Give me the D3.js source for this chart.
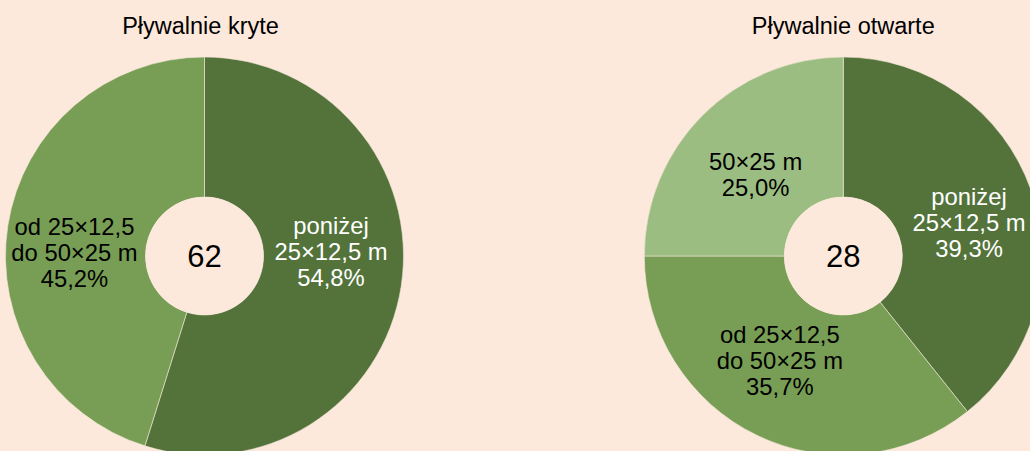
<!DOCTYPE html>
<html>
<head>
<meta charset="utf-8">
<script src="https://cdn.jsdelivr.net/npm/d3@7"></script>
<style>
  html, body { margin: 0; padding: 0; background: #fde9dc; }
  svg { display: block; font-family: "Liberation Sans", Arial, sans-serif; }
</style>
</head>
<body>
<svg id="chart" width="1030" height="451"></svg>
<script>
// Data
const titles = ["Pływalnie kryte", "Pływalnie otwarte"]
const categories = [["poniżej", "25×12,5 m"], ["od 25×12,5", "do 50×25 m"], ["50×25 m"]]
const indoorCounts = [34, 28]
const outdoorCounts = [11, 10, 7]

// Layout
const svg = d3.select("#chart")
const bg = "#fde9dc"
const colors = d3.scaleOrdinal().domain([0, 1, 2]).range(["#53733b", "#779e54", "#9cbd81"])
const labelColors = ["#ffffff", "#000000", "#000000"]
const outerR = 199, innerR = 59
const centres = [[204.5, 256], [843.3, 256]]
// small hand nudges so labels sit where the original placed them
const labelNudge = [[[-1, -24], [-2.5, 16]], [[4, 9], [-7.5, -11.5], [3.5, 9.7]]]
const fontSize = 23.8, lineH = 26.2

const pie = d3.pie().sort(null).value(d => d)
const arc = d3.arc().innerRadius(innerR).outerRadius(outerR)
const labelArc = d3.arc().innerRadius((innerR + outerR) / 2).outerRadius((innerR + outerR) / 2)
const pct = d3.format(".1f")

const drawDonut = (counts, idx) => {
  const [cx, cy] = centres[idx]
  const total = d3.sum(counts)
  const g = svg.append("g").attr("transform", "translate(" + cx + "," + cy + ")")

  g.selectAll("path.slice")
    .data(pie(counts))
    .enter().append("path")
      .attr("class", "slice")
      .attr("d", arc)
      .attr("fill", (d, i) => colors(i))
      .attr("stroke", "#f3e6d8")
      .attr("stroke-width", 0.6)

  // hole
  g.append("circle").attr("r", innerR).attr("fill", bg)

  g.append("text")
    .attr("text-anchor", "middle")
    .attr("y", 31 * 0.358)
    .style("font-size", "31px")
    .attr("fill", "#000")
    .text(total)

  // slice labels
  pie(counts).forEach((d, i) => {
    const [lx, ly] = labelArc.centroid(d)
    const nudge = labelNudge[idx][i]
    const lines = categories[i].concat([pct(d.value / total * 100).replace(".", ",") + "%"])
    const firstBase = ly + nudge[1] + fontSize * 0.358 - (lines.length - 1) * lineH / 2
    const t = g.append("text")
      .attr("text-anchor", "middle")
      .style("font-size", fontSize + "px")
      .attr("fill", labelColors[i])
    lines.forEach((s, k) => {
      t.append("tspan")
        .attr("x", lx + nudge[0])
        .attr("y", firstBase + k * lineH)
        .text(s)
    })
  })

  // title
  svg.append("text")
    .attr("x", cx - (idx === 0 ? 4 : 0))
    .attr("y", 34)
    .attr("text-anchor", "middle")
    .style("font-size", "23.5px")
    .attr("fill", "#000")
    .text(titles[idx])
}

svg.append("rect").attr("width", 1030).attr("height", 451).attr("fill", bg)
drawDonut(indoorCounts, 0)
drawDonut(outdoorCounts, 1)
</script>
</body>
</html>
